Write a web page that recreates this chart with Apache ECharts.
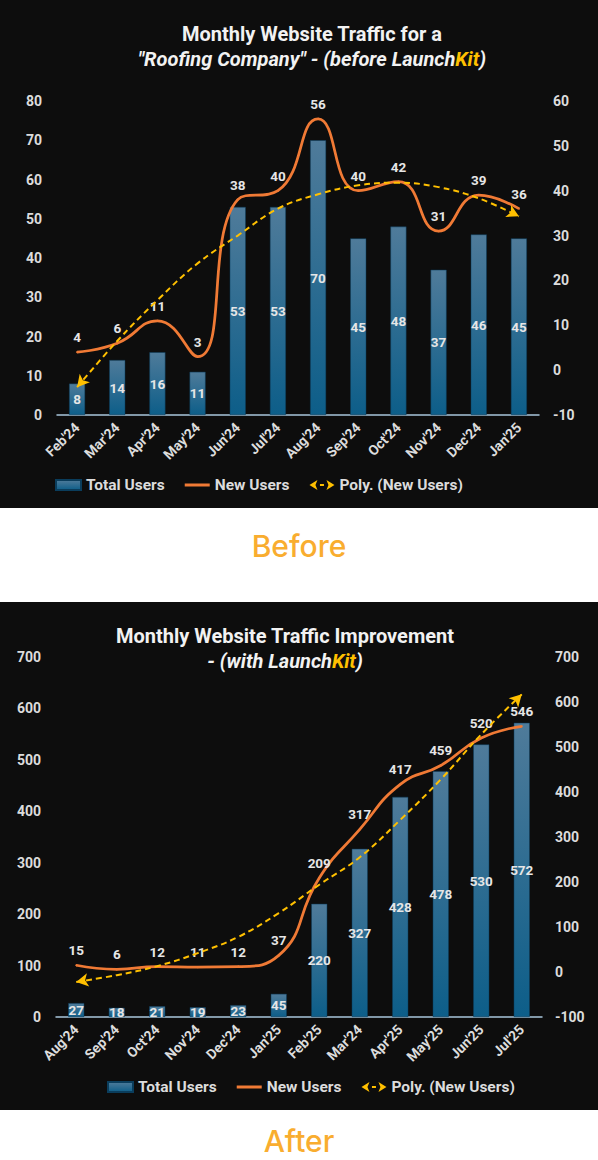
<!DOCTYPE html>
<html>
<head>
<meta charset="utf-8">
<script src="https://cdn.jsdelivr.net/npm/echarts@6/dist/echarts.min.js"></script>
<style>
  html, body { margin: 0; padding: 0; background: #ffffff; }
  body { position: relative; width: 598px; height: 1160px; overflow: hidden; }
  .panel { position: absolute; left: 0; width: 598px; height: 508px; background: #0d0d0d; }
  .cap { position: absolute; left: 0; width: 598px; text-align: center; font-family: Inter, Lato, "Noto Sans", sans-serif;
         font-weight: 500; font-size: 30px; line-height: 24px; color: #f9ad2f; }
</style>
</head>
<body>
<div id="chartBefore" class="panel" style="top:0px"></div>
<div class="cap" style="top:534px">Before</div>
<div id="chartAfter" class="panel" style="top:602px"></div>
<div class="cap" style="top:1129px">After</div>
<script>
// ---------- DATA: Before ----------
const beforeCategories = ["Feb'24", "Mar'24", "Apr'24", "May'24", "Jun'24", "Jul'24", "Aug'24", "Sep'24", "Oct'24", "Nov'24", "Dec'24", "Jan'25"];
const beforeTotalUsers = [8, 14, 16, 11, 53, 53, 70, 45, 48, 37, 46, 45];
const beforeNewUsers = [4, 6, 11, 3, 38, 40, 56, 40, 42, 31, 39, 36];
const beforePolyTrend = [-3.8, 6.5, 15.6, 23.8, 30, 36, 39.2, 41.2, 41.8, 40.8, 38.3, 34.3];
const beforeLeftTicks = [0, 10, 20, 30, 40, 50, 60, 70, 80];
const beforeRightTicks = [-10, 0, 10, 20, 30, 40, 50, 60];

// ---------- DATA: After ----------
const afterCategories = ["Aug'24", "Sep'24", "Oct'24", "Nov'24", "Dec'24", "Jan'25", "Feb'25", "Mar'24", "Apr'25", "May'25", "Jun'25", "Jul'25"];
const afterTotalUsers = [27, 18, 21, 19, 23, 45, 220, 327, 428, 478, 530, 572];
const afterNewUsers = [15, 6, 12, 11, 12, 37, 209, 317, 417, 459, 520, 546];
const afterPolyTrend = [-22, -7, 13, 42, 78, 131, 194, 255, 338, 428, 528, 617];
const afterLeftTicks = [0, 100, 200, 300, 400, 500, 600, 700];
const afterRightTicks = [-100, 0, 100, 200, 300, 400, 500, 600, 700];

const legendNames = ['Total Users', 'New Users', 'Poly. (New Users)'];

// ---------- STYLE ----------
const FONT = 'Roboto';
const TXT = '#dcdcdc';
const ORANGE = '#f07a35';
const YELLOW = '#ffc000';
const AXIS = '#a9c6db';

function barGradient() {
  return new echarts.graphic.LinearGradient(0, 0, 0, 1, [
    { offset: 0, color: '#4f7b9a' },
    { offset: 1, color: '#0d5e89' }
  ]);
}

function buildOption(cfg) {
  const last = cfg.poly.length - 1;
  const polyData = cfg.poly.map(function (v, i) {
    if (i === 0) return { value: v, symbol: 'arrow', symbolSize: [10, 12], symbolRotate: cfg.startRot };
    if (i === last) return { value: v, symbol: 'arrow', symbolSize: [10, 12], symbolRotate: cfg.endRot };
    return { value: v, symbol: 'none' };
  });
  const lt = cfg.leftTicks, rt = cfg.rightTicks;
  return {
    animation: false,
    backgroundColor: 'transparent',
    textStyle: { fontFamily: FONT },
    title: [
      { text: cfg.title1, left: cfg.titleX, top: 19, textAlign: 'center',
        textStyle: { color: '#f2f2f2', fontFamily: FONT, fontWeight: 'bold', fontSize: 20 } },
      { text: '{b|' + cfg.title2[0] + '}{k|' + cfg.title2[1] + '}{b|' + cfg.title2[2] + '}',
        left: cfg.titleX, top: 44, textAlign: 'center',
        textStyle: { rich: {
          b: { color: '#f2f2f2', fontFamily: FONT, fontWeight: 'bold', fontStyle: 'italic', fontSize: 20 },
          k: { color: YELLOW, fontFamily: FONT, fontWeight: 'bold', fontStyle: 'italic', fontSize: 20 }
        } } }
    ],
    legend: {
      left: cfg.legendX, top: 477, itemGap: 20, itemWidth: 25, itemHeight: 10, padding: 0,
      selectedMode: false,
      textStyle: { color: TXT, fontFamily: FONT, fontWeight: 'bold', fontSize: 15.5 },
      data: [
        { name: legendNames[0], icon: 'rect' },
        { name: legendNames[1], icon: 'path://M0,0H25V3H0Z' },
        { name: legendNames[2], icon: 'path://M0,5L8,0L6,5L8,10Z M10.5,4H14.5V6H10.5Z M25,5L17,0L19,5L17,10Z' }
      ]
    },
    grid: { left: cfg.grid.left, right: cfg.grid.right, top: cfg.grid.top, height: cfg.grid.height },
    xAxis: {
      type: 'category', data: cfg.categories, boundaryGap: true,
      axisLine: { show: true, lineStyle: { color: AXIS, width: 1.5 } },
      axisTick: { show: false },
      axisLabel: { interval: 0, rotate: 45, margin: 10, color: TXT, fontFamily: FONT, fontWeight: 'bold', fontSize: 14 },
      splitLine: { show: false }
    },
    yAxis: [
      { type: 'value', position: 'left', min: lt[0], max: lt[lt.length - 1], interval: lt[1] - lt[0],
        axisLine: { show: false }, axisTick: { show: false }, splitLine: { show: false },
        axisLabel: { margin: cfg.leftMargin, color: TXT, fontFamily: FONT, fontWeight: 'bold', fontSize: 14 } },
      { type: 'value', position: 'right', min: rt[0], max: rt[rt.length - 1], interval: rt[1] - rt[0],
        axisLine: { show: false }, axisTick: { show: false }, splitLine: { show: false },
        axisLabel: { margin: cfg.rightMargin, color: TXT, fontFamily: FONT, fontWeight: 'bold', fontSize: 14 } }
    ],
    series: [
      { name: legendNames[0], type: 'bar', yAxisIndex: 0, data: cfg.total, barWidth: 16,
        itemStyle: { color: barGradient(), borderColor: '#0a3d5c', borderWidth: 0.5 },
        label: { show: true, position: 'inside', color: '#e6e6e6', fontFamily: FONT, fontWeight: 'bold', fontSize: 13.5 },
        z: 2 },
      { name: legendNames[1], type: 'line', yAxisIndex: 1, data: cfg.fresh, smooth: 0.5,
        symbol: 'circle', symbolSize: 2, showSymbol: true,
        itemStyle: { color: ORANGE },
        lineStyle: { color: ORANGE, width: 2.75 },
        label: { show: true, position: 'top', distance: 7, color: '#e6e6e6', fontFamily: FONT, fontWeight: 'bold', fontSize: 13.5 },
        z: 3 },
      { name: legendNames[2], type: 'line', yAxisIndex: 1, data: polyData, smooth: 0.4,
        symbol: 'arrow', showSymbol: true,
        itemStyle: { color: YELLOW },
        lineStyle: { color: YELLOW, width: 2, type: [6, 4] },
        label: { show: false },
        z: 4 }
    ]
  };
}

const beforeChart = echarts.init(document.getElementById('chartBefore'), null, { renderer: 'svg', width: 598, height: 508 });
beforeChart.setOption(buildOption({
  categories: beforeCategories, total: beforeTotalUsers, fresh: beforeNewUsers, poly: beforePolyTrend,
  leftTicks: beforeLeftTicks, rightTicks: beforeRightTicks,
  title1: 'Monthly Website Traffic for a',
  title2: ['"Roofing Company" - (before Launch', 'Kit', ')'],
  titleX: 307, legendX: 55,
  grid: { left: 57, right: 59, top: 101, height: 314 },
  leftMargin: 15, rightMargin: 14,
  startRot: 140, endRot: -116
}));

const afterChart = echarts.init(document.getElementById('chartAfter'), null, { renderer: 'svg', width: 598, height: 508 });
afterChart.setOption(buildOption({
  categories: afterCategories, total: afterTotalUsers, fresh: afterNewUsers, poly: afterPolyTrend,
  leftTicks: afterLeftTicks, rightTicks: afterRightTicks,
  title1: 'Monthly Website Traffic Improvement',
  title2: ['- (with Launch', 'Kit', ')'],
  titleX: 280, legendX: 107,
  grid: { left: 56, right: 56, top: 55, height: 360 },
  leftMargin: 15, rightMargin: 13,
  startRot: 100, endRot: -44
}));
</script>
</body>
</html>
